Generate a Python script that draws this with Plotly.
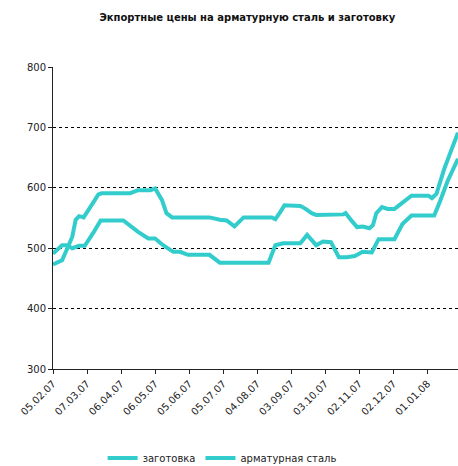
import plotly.graph_objects as go

# export prices, USD/t
billet_dates = ['2007-02-05', '2007-02-13', '2007-02-17', '2007-02-22', '2007-02-28', '2007-03-05',
                '2007-03-13', '2007-03-19', '2007-04-08', '2007-04-21', '2007-04-30', '2007-05-06',
                '2007-05-13', '2007-05-22', '2007-05-28', '2007-06-04', '2007-06-23', '2007-07-02',
                '2007-08-14', '2007-08-20', '2007-08-27', '2007-09-11', '2007-09-17', '2007-09-25',
                '2007-10-01', '2007-10-08', '2007-10-15', '2007-10-22', '2007-10-29', '2007-11-05',
                '2007-11-13', '2007-11-19', '2007-12-03', '2007-12-10', '2007-12-18', '2008-01-07',
                '2008-01-12', '2008-01-19', '2008-01-28']
billet = [491, 505, 505, 500, 504, 504,
          527, 546, 546, 527, 516, 516,
          505, 494, 494, 489, 489, 476,
          476, 505, 508, 508, 522, 505,
          511, 510, 485, 485, 487, 494,
          493, 515, 515, 540, 554, 554,
          577, 612, 648]

rebar_dates = ['2007-02-05', '2007-02-13', '2007-02-17', '2007-02-22', '2007-02-25', '2007-02-28',
               '2007-03-04', '2007-03-08', '2007-03-13', '2007-03-17', '2007-03-20', '2007-04-14',
               '2007-04-21', '2007-05-02', '2007-05-06', '2007-05-12', '2007-05-16', '2007-05-21',
               '2007-06-23', '2007-07-02', '2007-07-08', '2007-07-15', '2007-07-20', '2007-07-23',
               '2007-08-17', '2007-08-20', '2007-08-24', '2007-08-28', '2007-09-11', '2007-09-15',
               '2007-09-21', '2007-09-25', '2007-10-19', '2007-10-21', '2007-10-26', '2007-10-31',
               '2007-11-05', '2007-11-11', '2007-11-14', '2007-11-17', '2007-11-22', '2007-11-27',
               '2007-12-03', '2007-12-11', '2007-12-18', '2008-01-02', '2008-01-05', '2008-01-09',
               '2008-01-12', '2008-01-16', '2008-01-22', '2008-01-28']
rebar = [473, 480, 497, 519, 547, 553,
         551, 564, 577, 589, 591, 591,
         596, 596, 599, 580, 558, 551,
         551, 547, 546, 536, 544, 551,
         551, 548, 559, 571, 570, 566,
         558, 555, 556, 558, 546, 535,
         536, 533, 538, 558, 568, 565,
         565, 577, 587, 587, 583, 590,
         610, 632, 662, 691]

tick_dates = ['2007-02-05', '2007-03-07', '2007-04-06', '2007-05-06', '2007-06-05', '2007-07-05',
              '2007-08-04', '2007-09-03', '2007-10-03', '2007-11-02', '2007-12-02', '2008-01-01']
tick_labels = ['05.02.07', '07.03.07', '06.04.07', '06.05.07', '05.06.07', '05.07.07',
               '04.08.07', '03.09.07', '03.10.07', '02.11.07', '02.12.07', '01.01.08']

TEAL = 'rgb(51,204,204)'

fig = go.Figure()
fig.add_trace(go.Scatter(x=billet_dates, y=billet, mode='lines', name='заготовка',
                         line=dict(color=TEAL, width=4)))
fig.add_trace(go.Scatter(x=rebar_dates, y=rebar, mode='lines', name='арматурная сталь',
                         line=dict(color=TEAL, width=4)))

fig.update_layout(
    width=458, height=466,
    margin=dict(l=53, r=0, t=67, b=97),
    paper_bgcolor='white', plot_bgcolor='white',
    font=dict(family='DejaVu Sans, Verdana, sans-serif', size=10, color='#222'),
    title=dict(text='<b>Экпортные цены на арматурную сталь и заготовку</b>',
               x=0.54, xanchor='center', yref='container', y=0.963, yanchor='middle',
               font=dict(size=10, color='#111')),
    showlegend=True,
    legend=dict(orientation='h', xref='container', yref='container',
                x=0.485, xanchor='center', y=0.017, yanchor='middle',
                font=dict(size=10), itemwidth=30, tracegroupgap=0),
)
fig.update_xaxes(range=['2007-02-05', '2008-01-28'], tickvals=tick_dates, ticktext=tick_labels,
                 tickangle=-45, ticks='outside', ticklen=4, tickcolor='#222', automargin=False,
                 showline=True, linecolor='#222', linewidth=1, showgrid=False, zeroline=False)
fig.update_yaxes(range=[300, 800], dtick=100, ticks='outside', ticklen=4, tickcolor='#222',
                 showline=True, linecolor='#222', linewidth=1, automargin=False,
                 showgrid=True, gridcolor='black', gridwidth=1, griddash='3px,3px',
                 zeroline=False)

# page body has an 8px margin by default, which shifts and squeezes the figure
fig.write_html("out.html", config={'responsive': False, 'displayModeBar': False},
               post_script="document.body.style.margin='0';document.body.style.overflow='hidden';")
